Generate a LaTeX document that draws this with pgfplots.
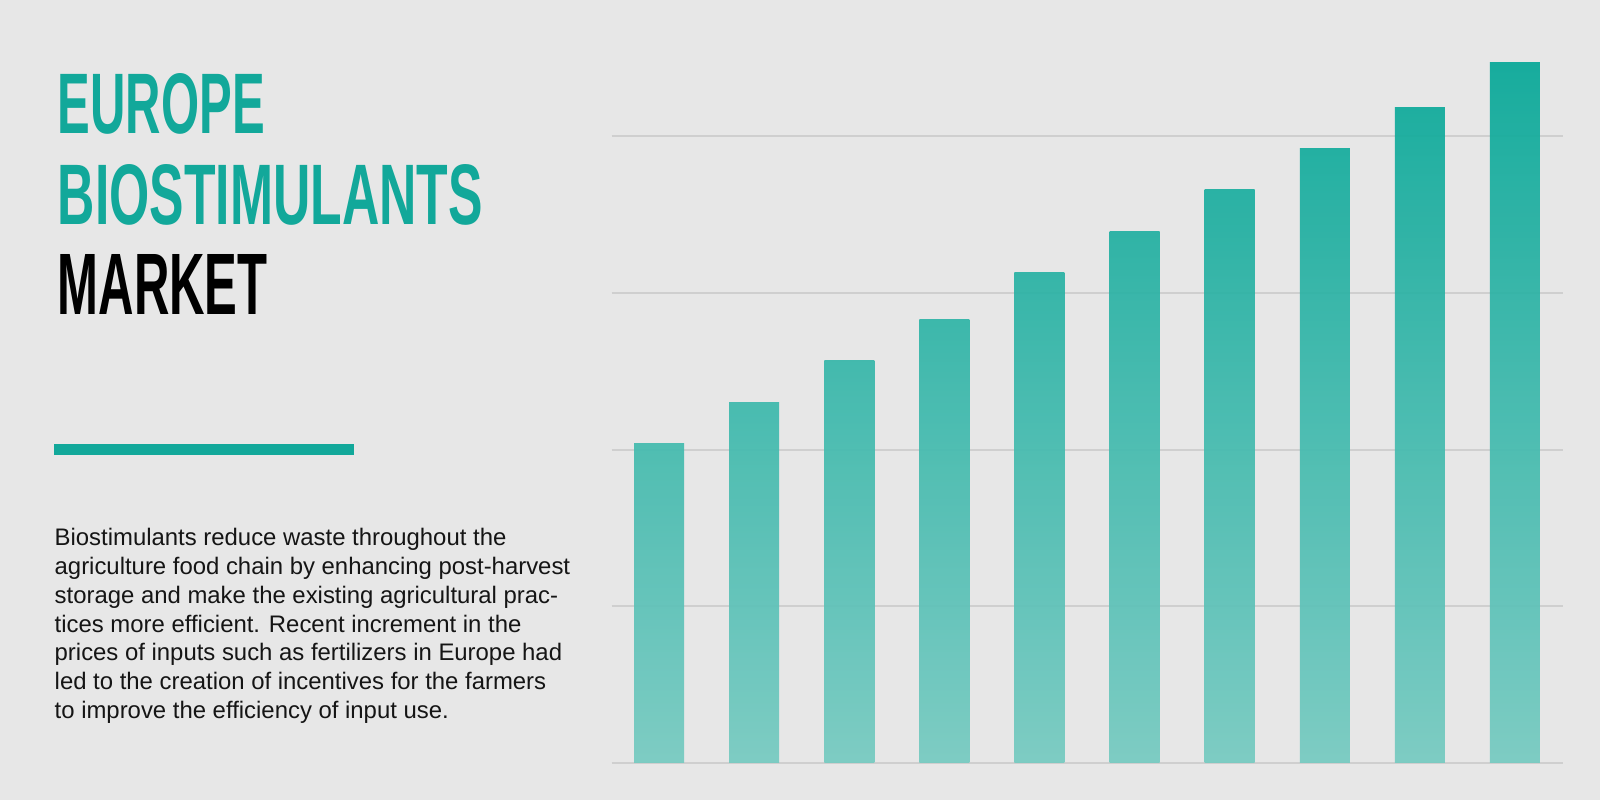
\documentclass[border=0pt]{standalone}
\usepackage{fontspec}
\setmainfont{Liberation Sans}
\usepackage{graphicx}
\usepackage{pgfplots}
\pgfplotsset{compat=1.18}

\definecolor{bg}{HTML}{E7E7E7}
\definecolor{teal1}{HTML}{12A89A}
\definecolor{bardark}{HTML}{08A898}
\definecolor{barlight}{HTML}{76CAC1}
\definecolor{gridgray}{HTML}{CFCFCF}
\definecolor{ink}{HTML}{151515}

\begin{document}
\begin{tikzpicture}
% background, 1 px = 0.01 cm
\fill[bg] (0,0) rectangle (16,8);

% title
\node[anchor=south west, inner sep=0pt, text=teal1] at (0.57,6.65)
  {\resizebox{2.07cm}{0.60cm}{\bfseries EUROPE}};
\node[anchor=south west, inner sep=0pt, text=teal1] at (0.57,5.74)
  {\resizebox{4.25cm}{0.60cm}{\bfseries BIOSTIMULANTS}};
\node[anchor=south west, inner sep=0pt, text=black] at (0.57,4.85)
  {\resizebox{2.10cm}{0.60cm}{\bfseries MARKET}};

% rule under the title
\fill[teal1] (0.54,3.45) rectangle (3.54,3.56);

% body text
\node[anchor=base west, inner sep=0pt, text=ink] at (0.54,2.54)
  {\parbox[t]{6.5cm}{\fontsize{6.8pt}{8.17pt}\selectfont\raggedright
  Biostimulants reduce waste throughout the\\
  agriculture food chain by enhancing post-harvest\\
  storage and make the existing agricultural prac-\\
  tices more efficient. Recent increment in the\\
  prices of inputs such as fertilizers in Europe had\\
  led to the creation of incentives for the farmers\\
  to improve the efficiency of input use.}};

\begin{axis}[
  at={(6.115cm,0.37cm)}, anchor=south west,
  scale only axis, width=9.51cm, height=7.21cm,
  xmin=-0.5, xmax=9.5, ymin=0, ymax=4.6,
  axis line style={draw=none},
  tick style={draw=none},
  xtick=\empty, ytick={0,1,2,3,4}, yticklabels={},
  ymajorgrids, grid style={draw=gridgray, line width=0.02cm},
  clip=false,
  every axis plot/.append style={ybar, bar width=0.50cm, bar shift=0pt,
    draw=none, fill opacity=0.93, bottom color=barlight},
]
\addplot[top color=bardark!45.6!barlight] coordinates {(0,2.04)};
\addplot[top color=bardark!51.5!barlight] coordinates {(1,2.30)};
\addplot[top color=bardark!57.5!barlight] coordinates {(2,2.57)};
\addplot[top color=bardark!63.3!barlight] coordinates {(3,2.83)};
\addplot[top color=bardark!70.0!barlight] coordinates {(4,3.13)};
\addplot[top color=bardark!75.8!barlight] coordinates {(5,3.39)};
\addplot[top color=bardark!81.9!barlight] coordinates {(6,3.66)};
\addplot[top color=bardark!87.7!barlight] coordinates {(7,3.92)};
\addplot[top color=bardark!93.5!barlight] coordinates {(8,4.18)};
\addplot[top color=bardark!100!barlight] coordinates {(9,4.47)};
\end{axis}

\pgfresetboundingbox
\path[use as bounding box] (0,0) rectangle (16,8);
\end{tikzpicture}
\end{document}
